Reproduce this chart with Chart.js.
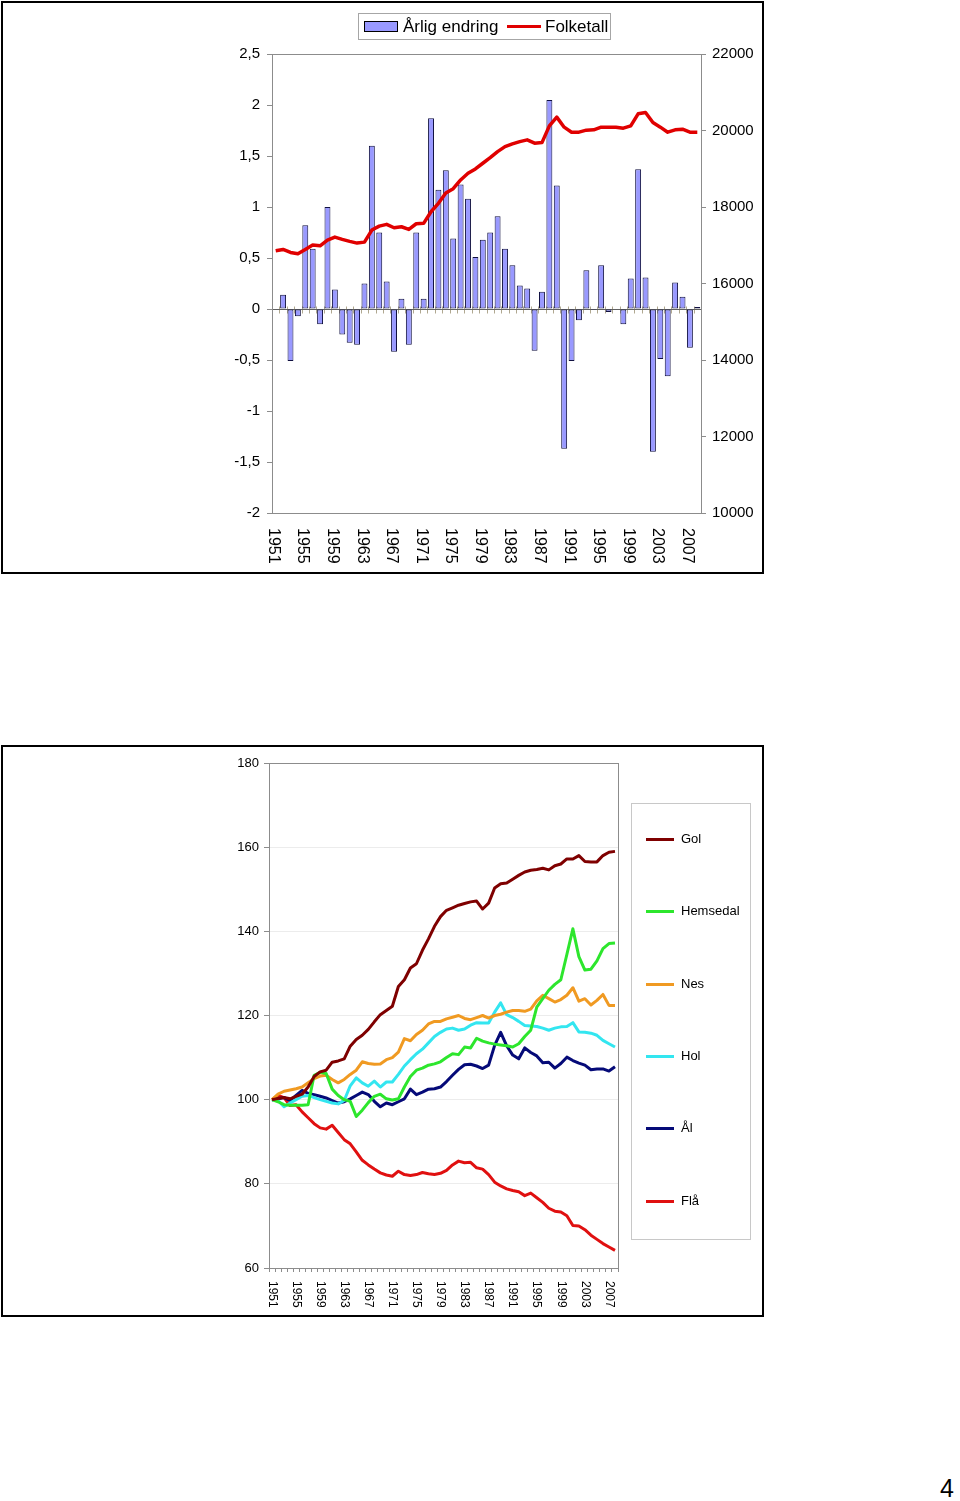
<!DOCTYPE html>
<html>
<head>
<meta charset="utf-8">
<script src="https://cdn.jsdelivr.net/npm/chart.js@4.4.1/dist/chart.umd.min.js"></script>
<style>
  html, body { margin: 0; padding: 0; background: #fff; }
  body { width: 960px; height: 1501px; position: relative; overflow: hidden; font-family: "Liberation Sans", Arial, sans-serif; color: #000; }
  .abs { position: absolute; }
  .frame { position: absolute; border: 2px solid #000; box-sizing: border-box; }
  .lg { position: absolute; white-space: nowrap; }
</style>
</head>
<body>
<div class="frame" style="left:1px;top:1px;width:763px;height:573px;"></div>
<div class="frame" style="left:1px;top:745px;width:763px;height:572px;"></div>

<canvas id="c1" class="abs" width="765" height="575" style="left:0;top:0;"></canvas>
<canvas id="c2" class="abs" width="765" height="572" style="left:0;top:745px;"></canvas>

<!-- legend chart 1 -->
<div class="abs" style="left:358px;top:13px;width:253px;height:27px;border:1px solid #a6a6a6;box-sizing:border-box;"></div>
<div class="abs" style="left:364px;top:21px;width:34px;height:11px;background:#9999ff;border:1px solid #000;box-sizing:border-box;"></div>
<div class="lg" style="left:403px;top:17px;font-size:17px;line-height:20px;">Årlig endring</div>
<div class="abs" style="left:507px;top:25px;width:34px;height:3px;background:#e00000;"></div>
<div class="lg" style="left:545px;top:17px;font-size:17px;line-height:20px;">Folketall</div>

<!-- legend chart 2 -->
<div class="abs" style="left:631px;top:803px;width:120px;height:437px;border:1px solid #c8c8c8;box-sizing:border-box;"></div>
<div id="leg2"></div>

<div class="lg" style="left:940px;top:1474px;font-size:25px;line-height:28px;">4</div>

<script>
// ---------------- DATA ----------------
const years = ['1951','1952','1953','1954','1955','1956','1957','1958','1959','1960',
  '1961','1962','1963','1964','1965','1966','1967','1968','1969','1970',
  '1971','1972','1973','1974','1975','1976','1977','1978','1979','1980',
  '1981','1982','1983','1984','1985','1986','1987','1988','1989','1990',
  '1991','1992','1993','1994','1995','1996','1997','1998','1999','2000',
  '2001','2002','2003','2004','2005','2006','2007','2008'];

const xTickLabels = ['1951','1955','1959','1963','1967','1971','1975','1979','1983','1987','1991','1995','1999','2003','2007'];

// Chart 1: annual change (%) and population
const arligEndring = [null, 0.14, -0.51, -0.07, 0.82, 0.59, -0.15, 1.00, 0.19, -0.25,
  -0.33, -0.35, 0.25, 1.60, 0.75, 0.27, -0.42, 0.10, -0.35, 0.75,
  0.10, 1.87, 1.17, 1.36, 0.69, 1.22, 1.08, 0.51, 0.68, 0.75,
  0.91, 0.59, 0.43, 0.23, 0.20, -0.41, 0.17, 2.05, 1.21, -1.37,
  -0.51, -0.11, 0.38, -0.01, 0.43, -0.03, 0, -0.15, 0.30, 1.37,
  0.31, -1.40, -0.49, -0.66, 0.26, 0.12, -0.38, 0.02];

const folketall = [16855, 16891, 16812, 16776, 16891, 17004, 16986, 17135, 17213, 17153,
  17101, 17056, 17082, 17397, 17501, 17546, 17457, 17483, 17415, 17562,
  17572, 17876, 18096, 18366, 18479, 18707, 18882, 18995, 19144, 19290,
  19448, 19579, 19650, 19710, 19755, 19668, 19684, 20121, 20349, 20087,
  19956, 19956, 20009, 20018, 20087, 20087, 20087, 20061, 20121, 20436,
  20470, 20208, 20087, 19956, 20018, 20035, 19956, 19956];

// Chart 2: index (1951 = 100)
const gol = [100, 100.3, 100.5, 100.2, 100.8, 101.3, 103, 105.5, 106.6, 107,
  108.9, 109.2, 109.7, 112.7, 114.3, 115.3, 116.7, 118.5, 120.2, 121.2,
  122.2, 126.9, 128.5, 131.3, 132.3, 135.5, 138.2, 141.2, 143.5, 145,
  145.6, 146.2, 146.6, 147, 147.2, 145.3, 146.7, 150.3, 151.3, 151.5,
  152.4, 153.3, 154.1, 154.5, 154.7, 155, 154.6, 155.6, 156, 157.2,
  157.2, 158, 156.6, 156.5, 156.5, 158, 158.8, 159];

const hemsedal = [100, 99.5, 98.8, 98.7, 98.7, 98.7, 98.8, 105.8, 106.5, 106.2,
  102.5, 101, 100, 99.6, 96, 97.5, 99.3, 100.8, 101.3, 100.2,
  99.9, 100.2, 103, 105.5, 107, 107.5, 108.2, 108.5, 109, 110,
  110.9, 110.7, 112.5, 112.3, 114.6, 113.9, 113.5, 113.2, 113, 112.8,
  112.5, 113.3, 115, 116.5, 122, 124, 126, 127.4, 128.5, 134.5,
  140.6, 134, 130.8, 131, 133, 135.9, 137.1, 137.2];

const nes = [100, 101.3, 102, 102.3, 102.6, 103, 104, 105, 105.6, 105.8,
  104.8, 104, 104.8, 106, 107, 109, 108.6, 108.4, 108.5, 109.5,
  110, 111.3, 114.5, 114, 115.5, 116.5, 118, 118.6, 118.6, 119.2,
  119.6, 120, 119.3, 119, 119.5, 120, 119.4, 120, 120.3, 120.8,
  121.2, 121.2, 121, 121.5, 123.5, 124.8, 124, 123.2, 123.8, 124.8,
  126.6, 123.4, 124, 122.5, 123.6, 125, 122.4, 122.4];

const hol = [100, 99.8, 98.3, 99.2, 100, 100.8, 101, 100.5, 100, 99.6,
  99.2, 99, 99.8, 103.3, 105.2, 104, 103.2, 104.4, 103, 104.2,
  104.2, 106, 108, 109.5, 110.9, 112, 113.5, 115, 116, 116.8,
  117, 116.5, 116.8, 117.7, 118.3, 118.2, 118.2, 120.8, 123, 120.2,
  119.5, 118.6, 117.6, 117.5, 117.4, 117, 116.5, 117, 117.3, 117.4,
  118.3, 116.1, 116, 115.8, 115.3, 114.1, 113.3, 112.5];

const al = [100, 100.2, 100.5, 99.8, 101, 102.2, 101.5, 101.2, 100.8, 100.4,
  99.8, 99.2, 99.5, 100.2, 101, 101.8, 101.2, 99.6, 98.3, 99.2,
  98.8, 99.5, 100.2, 102.5, 101.2, 101.8, 102.5, 102.6, 103, 104.3,
  105.8, 107.2, 108.3, 108.4, 108, 107.4, 108.2, 112.9, 116, 112.8,
  110.6, 109.7, 112.3, 111.2, 110.4, 108.8, 108.9, 107.5, 108.6, 110.1,
  109.3, 108.7, 108.2, 107.1, 107.3, 107.3, 106.8, 107.8];

const fla = [100, 101, 100.5, 98.6, 98.8, 97.1, 95.7, 94.3, 93.3, 93,
  93.9, 92.2, 90.5, 89.5, 87.6, 85.6, 84.5, 83.5, 82.6, 82.1,
  81.8, 83, 82.2, 82, 82.2, 82.7, 82.4, 82.2, 82.5, 83.2,
  84.5, 85.4, 85, 85.1, 83.8, 83.5, 82.2, 80.4, 79.5, 78.8,
  78.4, 78.1, 77.2, 77.8, 76.7, 75.6, 74.2, 73.5, 73.3, 72.4,
  70.1, 70, 69.1, 67.8, 66.8, 65.8, 65, 64.2];

const seriesNames = ['Gol', 'Hemsedal', 'Nes', 'Hol', 'Ål', 'Flå'];
const seriesData = [gol, hemsedal, nes, hol, al, fla];
const seriesColors = ['#7f0000', '#2de62d', '#f09a22', '#33e6f0', '#050a78', '#e01010'];

// ---------------- SETUP ----------------
Chart.defaults.font.family = '"Liberation Sans", Arial, sans-serif';
Chart.defaults.color = '#000';
Chart.defaults.animation = false;

const plotBorder = {
  id: 'plotBorder',
  afterDatasetsDraw(chart, args, opts) {
    const a = chart.chartArea, ctx = chart.ctx;
    ctx.save();
    ctx.strokeStyle = opts.color || '#808080';
    ctx.lineWidth = 1;
    ctx.strokeRect(Math.round(a.left) + 0.5, Math.round(a.top) + 0.5, Math.round(a.right - a.left), Math.round(a.bottom - a.top));
    ctx.restore();
  }
};

const zeroAxis = {
  id: 'zeroAxis',
  beforeDatasetsDraw(chart, args, opts) {
    if (!opts || !opts.enabled) return;
    const xs = chart.scales.x, ys = chart.scales.y, ctx = chart.ctx, a = chart.chartArea;
    const y0 = Math.round(ys.getPixelForValue(0)) + 0.5;
    ctx.save();
    ctx.strokeStyle = '#b0a890';
    ctx.lineWidth = 1;
    const n = chart.data.labels.length;
    for (let i = 0; i <= n; i++) {
      const px = Math.round(xs.getPixelForValue(i - 0.5)) + 0.5;
      ctx.beginPath(); ctx.moveTo(px, y0 - 3); ctx.lineTo(px, y0 + 4); ctx.stroke();
    }
    ctx.strokeStyle = '#606060';
    ctx.beginPath(); ctx.moveTo(a.left, y0); ctx.lineTo(a.right, y0); ctx.stroke();
    ctx.restore();
  }
};

const rotLabels = {
  id: 'rotLabels',
  afterDraw(chart, args, opts) {
    if (!opts || !opts.labels) return;
    const xs = chart.scales.x, ctx = chart.ctx;
    ctx.save();
    ctx.font = opts.font;
    ctx.fillStyle = '#000';
    ctx.textAlign = 'left';
    ctx.textBaseline = 'middle';
    opts.labels.forEach(lbl => {
      const idx = chart.data.labels.indexOf(lbl);
      const px = xs.getPixelForValue(idx) + opts.dx;
      ctx.save();
      ctx.translate(px, chart.chartArea.bottom + opts.gap);
      ctx.rotate(Math.PI / 2);
      ctx.fillText(lbl, 0, 0);
      ctx.restore();
    });
    ctx.restore();
  }
};

// ---------------- CHART 1 ----------------
new Chart(document.getElementById('c1'), {
  type: 'bar',
  data: {
    labels: years,
    datasets: [
      {
        type: 'line', label: 'Folketall', data: folketall, yAxisID: 'y1',
        borderColor: '#e00000', borderWidth: 3.5, pointRadius: 0, tension: 0,
        borderJoinStyle: 'round', order: 0
      },
      {
        type: 'bar', label: 'Årlig endring', data: arligEndring, yAxisID: 'y',
        backgroundColor: '#9999ff', borderColor: '#101040', borderWidth: 1,
        borderSkipped: false,
        categoryPercentage: 1.0, barPercentage: 0.8, order: 1
      }
    ]
  },
  options: {
    responsive: false,
    layout: { padding: { top: 54, left: 0, right: 0, bottom: 0 } },
    plugins: {
      legend: { display: false }, tooltip: { enabled: false },
      plotBorder: { color: '#8c8c8c' },
      zeroAxis: { enabled: true },
      rotLabels: { labels: xTickLabels, font: '16px "Liberation Sans", Arial, sans-serif', gap: 15, dx: -2.5 }
    },
    scales: {
      x: {
        offset: true,
        grid: { display: false },
        border: { display: false },
        ticks: { display: false },
        afterFit(s) { s.height = 62; }
      },
      y: {
        position: 'left', min: -2, max: 2.5,
        grid: { drawOnChartArea: false, tickLength: 5, tickColor: '#8c8c8c' },
        border: { color: '#8c8c8c' },
        ticks: { stepSize: 0.5, padding: 7, font: { size: 15 },
          callback: v => String(Math.round(v * 10) / 10).replace('.', ',') },
        afterFit(s) { s.width = 272; }
      },
      y1: {
        position: 'right', min: 10000, max: 22000,
        grid: { drawOnChartArea: false, tickLength: 5, tickColor: '#8c8c8c' },
        border: { color: '#8c8c8c' },
        ticks: { stepSize: 2000, padding: 6, font: { size: 15 }, callback: v => String(v) },
        afterFit(s) { s.width = 64; }
      }
    }
  },
  plugins: [plotBorder, zeroAxis, rotLabels]
});

// ---------------- CHART 2 ----------------
new Chart(document.getElementById('c2'), {
  type: 'line',
  data: {
    labels: years,
    datasets: seriesNames.map((n, i) => ({
      label: n, data: seriesData[i], borderColor: seriesColors[i], borderWidth: 3,
      pointRadius: 0, tension: 0, borderJoinStyle: 'round', fill: false
    }))
  },
  options: {
    responsive: false,
    layout: { padding: { top: 18, left: 0, right: 147, bottom: 0 } },
    plugins: {
      legend: { display: false }, tooltip: { enabled: false },
      plotBorder: { color: '#8c8c8c' },
      zeroAxis: { enabled: false },
      rotLabels: { labels: xTickLabels, font: '12px "Liberation Sans", Arial, sans-serif', gap: 13, dx: 0 }
    },
    scales: {
      x: {
        offset: true,
        grid: { offset: true, drawOnChartArea: false, tickLength: 4, color: '#8c8c8c' },
        border: { color: '#8c8c8c' },
        ticks: { display: false },
        afterFit(s) { s.height = 49; }
      },
      y: {
        min: 60, max: 180,
        grid: { color: '#ececec', tickLength: 5, tickColor: '#8c8c8c' },
        border: { color: '#8c8c8c' },
        ticks: { stepSize: 20, padding: 5, font: { size: 13 } },
        afterFit(s) { s.width = 269; }
      }
    }
  },
  plugins: [plotBorder, rotLabels]
});

// legend 2
const legYs = [839, 911, 984, 1056, 1128, 1201];
const leg2 = document.getElementById('leg2');
seriesNames.forEach((n, i) => {
  const line = document.createElement('div');
  line.className = 'abs';
  line.style.cssText = `left:646px;top:${legYs[i] - 1}px;width:28px;height:3px;background:${seriesColors[i]};`;
  leg2.appendChild(line);
  const t = document.createElement('div');
  t.className = 'lg';
  t.style.cssText = `left:681px;top:${legYs[i] - 8}px;font-size:13px;line-height:16px;`;
  t.textContent = n;
  leg2.appendChild(t);
});
</script>
</body>
</html>
